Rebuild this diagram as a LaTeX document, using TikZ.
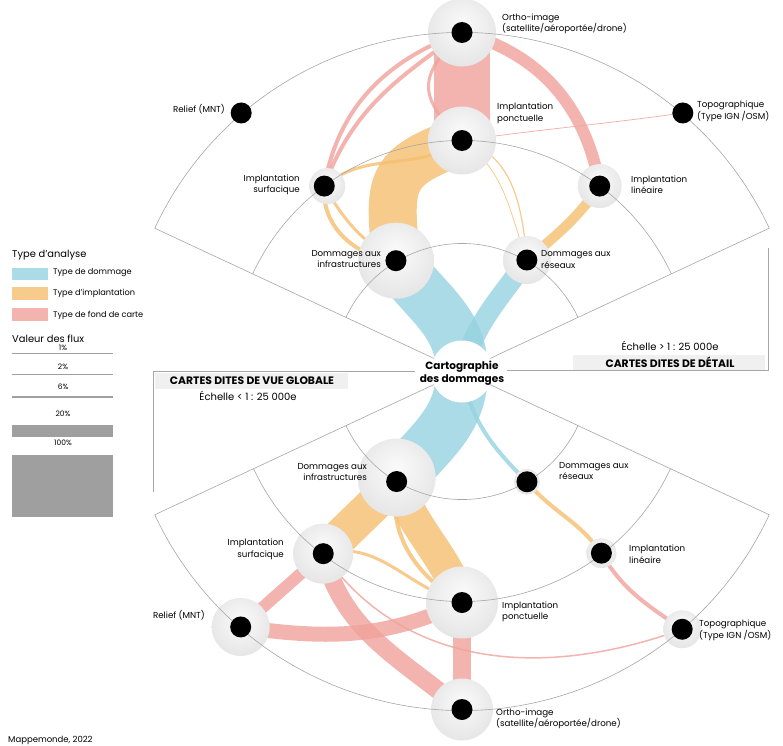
\documentclass[tikz,border=0pt]{standalone}
\usepackage{fontspec}
\setmainfont{Poppins}
\usetikzlibrary{positioning}
\definecolor{dmgblue}{RGB}{150,210,224}
\definecolor{implorange}{RGB}{245,190,111}
\definecolor{fondpink}{RGB}{240,161,155}
\pgfdeclareradialshading{halo}{\pgfpoint{0bp}{7bp}}{color(0bp)=(gray!4); color(15bp)=(gray!12); color(38bp)=(gray!26); color(46bp)=(gray!22); color(50bp)=(gray!10)}
\tikzset{
  frame/.style={draw=gray!70, line width=0.6pt},
  dmg/.style={draw=dmgblue, opacity=0.8},
  impl/.style={draw=implorange, opacity=0.8},
  fond/.style={draw=fondpink, opacity=0.8},
  dot/.style={circle, fill=black, inner sep=0pt, minimum size=21pt},
  lbl/.style={font=\fontsize{8.7}{11.5}\selectfont, inner sep=0pt},
  lgtitle/.style={font=\fontsize{9.9}{11}\selectfont, inner sep=0pt, anchor=west},
  lgitem/.style={font=\fontsize{8.2}{9}\selectfont, inner sep=0pt, anchor=west},
  lgpct/.style={font=\fontsize{7.5}{8}\selectfont, inner sep=0pt},
  bar/.style={draw=gray!75},
  boxtitle/.style={font=\bfseries\fontsize{10.8}{12}\selectfont, inner sep=0pt},
  scaletxt/.style={font=\fontsize{10}{11}\selectfont, inner sep=0pt}
}
\begin{document}
\begin{tikzpicture}[x=1pt,y=1pt]
\useasboundingbox (-462,-373.5) rectangle (321,371.5);
% positions des noeuds
\coordinate (C) at (0,0);
\coordinate (ortA) at (90:339);
\coordinate (relA) at (130.5:340);
\coordinate (topoA) at (49.5:340);
\coordinate (ponA) at (90:231);
\coordinate (surA) at (126.6:231);
\coordinate (linA) at (53.4:231);
\coordinate (infA) at (120.8:129);
\coordinate (resA) at (59.8:129);
\coordinate (infB) at (-120.7:128);
\coordinate (resB) at (-59.5:128);
\coordinate (surB) at (-127.3:229);
\coordinate (linB) at (-52.5:229);
\coordinate (ponB) at (-90:231);
\coordinate (relB) at (-130.9:338);
\coordinate (topoB) at (-49.5:339);
\coordinate (ortB) at (-90:338);

% flux : type de dommage
\draw[dmg, line width=52pt] (infA) to[out=-55,in=90] (C) to[out=-90,in=50] (infB);
\draw[dmg, line width=20pt] (C) to[out=75,in=235] (resA);
\draw[dmg, line width=4pt] (C) to[out=-80,in=135] (resB);

% flux : type d'implantation
\draw[impl, line width=48pt] (ponA) to[out=200,in=95,looseness=1.5] (infA);
\draw[impl, line width=4pt] (surA) to[out=-95,in=175] (infA);
\draw[impl, line width=3pt] (surA) to[out=-60,in=150] (infA);
\draw[impl, line width=3pt] (surA) to[out=40,in=215] (ponA);
\draw[impl, line width=1.2pt] (ponA) to[out=-15,in=95] (resA);
\draw[impl, line width=0.8pt] (ponA) to[out=-35,in=110] (resA);
\draw[impl, line width=10pt] (linA) to[out=-125,in=40] (resA);
\draw[impl, line width=36pt] (infB) to[out=225,in=45] (surB);
\draw[impl, line width=32pt] (infB) to[out=-70,in=110] (ponB);
\draw[impl, line width=4pt] (infB) to[out=-100,in=150] (ponB);
\draw[impl, line width=3pt] (surB) to[out=15,in=165] (ponB);
\draw[impl, line width=4pt] (resB) to[out=-50,in=125] (linB);

% flux : type de fond de carte
\draw[fond, line width=56pt] (ortA) -- (ponA);
\draw[fond, line width=12pt] (ortA) to[out=-15,in=100] (linA);
\draw[fond, line width=4pt] (ortA) to[out=200,in=80] (surA);
\draw[fond, line width=4pt] (ortA) to[out=215,in=70] (surA);
\draw[fond, line width=3pt] (ortA) to[out=225,in=135,looseness=1.5] (ponA);
\draw[fond, line width=0.8pt] (ponA) to[out=8,in=188] (topoA);
\draw[fond, line width=12pt] (surB) -- (relB);
\draw[fond, line width=15pt] (relB) to[out=-8,in=205] (ponB);
\draw[fond, line width=18pt] (surB) to[out=-75,in=140] (ortB);
\draw[fond, line width=18pt] (ponB) -- (ortB);
\draw[fond, line width=1.5pt] (surB) to[out=-55,in=200] (topoB);
\draw[fond, line width=4pt] (linB) to[out=-60,in=145] (topoB);

% halos
\shade[shading=halo] (ortA) circle (34);
\shade[shading=halo] (ponA) circle (34);
\shade[shading=halo] ([xshift=3pt]surA) circle (18);
\shade[shading=halo] (linA) circle (22);
\shade[shading=halo] (infA) circle (38);
\shade[shading=halo] (resA) circle (24);
\shade[shading=halo] ([yshift=4pt]infB) circle (39);
\shade[shading=halo] (resB) circle (13);
\shade[shading=halo] (surB) circle (30);
\shade[shading=halo] (linB) circle (15);
\shade[shading=halo] (ponB) circle (36);
\shade[shading=halo] (relB) circle (29);
\shade[shading=halo] (topoB) circle (19);
\shade[shading=halo] (ortB) circle (31);

% cadre des eventails
\draw[frame] (C) -- (155:339) arc (155:25:339) -- (C);
\draw[frame] (155:231) arc (155:25:231);
\draw[frame] (155:128) arc (155:25:128);
\draw[frame] (C) -- (205:339) arc (205:335:339) -- (C);
\draw[frame] (205:230) arc (205:335:230);
\draw[frame] (205:128) arc (205:335:128);
\draw[frame] (-47,0) -- (-309,0) -- (-309,-120.5);
\draw[frame] (45,1.5) -- (306,1.5) -- (306,123.5);
\fill[gray!12] (111,16.5) rectangle (303,2);
\fill[gray!12] (-307,-1.5) rectangle (-114,-17.5);
\node[boxtitle] (detail) at (208,9) {CARTES DITES DE DÉTAIL};
\node[scaletxt] (detailScale) at (208,25.5) {Échelle > 1 : 25 000e};
\node[boxtitle] (global) at (-210,-9.5) {CARTES DITES DE VUE GLOBALE};
\node[scaletxt] (globalScale) at (-214,-24.5) {Échelle < 1 : 25 000e};

% centre
\node[circle, fill=white, minimum size=62pt, inner sep=0pt] (carto) at (C) {};
\node[font=\bfseries\fontsize{10.5}{12.5}\selectfont, align=center, inner sep=0pt] (cartoTxt) at (0,-1.5) {Cartographie\\des dommages};

% points
\foreach \n in {ortA,relA,topoA,ponA,surA,linA,infA,resA,infB,resB,surB,linB,ponB,relB,topoB,ortB}
  \node[dot] (\n-dot) at (\n) {};

% etiquettes
\node[lbl, anchor=west, align=left] (ortA-lbl) at (40,347.8) {Ortho-image\\(satellite/aéroportée/drone)};
\node[lbl, anchor=east] (relA-lbl) at (-237,262.5) {Relief (MNT)};
\node[lbl, anchor=west, align=left] (ponA-lbl) at (35,258) {Implantation\\ponctuelle};
\node[lbl, anchor=east, align=right] (surA-lbl) at (-162,186.5) {Implantation\\surfacique};
\node[lbl, anchor=west, align=left] (linA-lbl) at (169,187) {Implantation\\linéaire};
\node[lbl, anchor=east, align=right] (infA-lbl) at (-81,112.5) {Dommages aux\\infrastructures};
\node[lbl, anchor=west, align=left] (resA-lbl) at (79,112) {Dommages aux\\réseaux};
\node[lbl, anchor=west, align=left] (topoA-lbl) at (235,260) {Topographique\\(Type IGN /OSM)};
\node[lbl, anchor=east, align=right] (infB-lbl) at (-95,-100.5) {Dommages aux\\infrastructures};
\node[lbl, anchor=west, align=left] (resB-lbl) at (97,-99.5) {Dommages aux\\réseaux};
\node[lbl, anchor=east, align=right] (surB-lbl) at (-178,-178) {Implantation\\surfacique};
\node[lbl, anchor=west, align=left] (linB-lbl) at (167,-182.5) {Implantation\\linéaire};
\node[lbl, anchor=west, align=left] (ponB-lbl) at (40,-240.5) {Implantation\\ponctuelle};
\node[lbl, anchor=east] (relB-lbl) at (-257,-244) {Relief (MNT)};
\node[lbl, anchor=west, align=left] (topoB-lbl) at (237,-259) {Topographique\\(Type IGN /OSM)};
\node[lbl, anchor=west, align=left] (ortB-lbl) at (34,-347.5) {Ortho-image\\(satellite/aéroportée/drone)};

% legende
\node[lgtitle] (legType) at (-450,116.5) {Type d’analyse};
\fill[dmgblue, opacity=0.8] (-450,103.5) rectangle (-414,91.5);
\fill[implorange, opacity=0.8] (-450,84.5) rectangle (-414,71.5);
\fill[fondpink, opacity=0.8] (-450,63.5) rectangle (-414,50.5);
\node[lgitem] (legDmg) at (-409,98.5) {Type de dommage};
\node[lgitem] (legImpl) at (-409,78.5) {Type d’implantation};
\node[lgitem] (legFond) at (-409,56.5) {Type de fond de carte};
\node[lgtitle] (legFlux) at (-450,32.5) {Valeur des flux};
\node[lgpct] (pct1) at (-399,23.5) {1\%};
\draw[bar, line width=0.6pt] (-450,18.2) -- (-349,18.2);
\node[lgpct] (pct2) at (-399,4.5) {2\%};
\draw[bar, line width=1.2pt] (-450,-2.8) -- (-349,-2.8);
\node[lgpct] (pct6) at (-399,-15.5) {6\%};
\draw[bar, line width=2.5pt] (-450,-25.3) -- (-349,-25.3);
\node[lgpct] (pct20) at (-399,-42.5) {20\%};
\fill[gray!75] (-450,-53.8) rectangle (-349,-65.8);
\node[lgpct] (pct100) at (-399,-71.5) {100\%};
\fill[gray!75] (-450,-83.5) rectangle (-349,-145.5);

\node[lgitem, font=\fontsize{8.5}{9}\selectfont] (source) at (-454,-368.5) {Mappemonde, 2022};
\end{tikzpicture}
\end{document}
